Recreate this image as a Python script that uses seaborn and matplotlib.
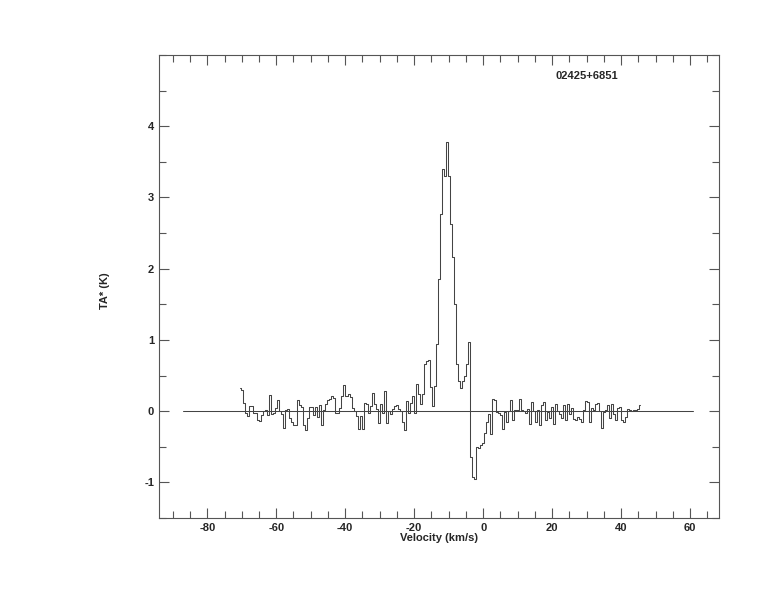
import numpy as np
import pandas as pd
import matplotlib
matplotlib.use("Agg")
import matplotlib.pyplot as plt
from matplotlib.ticker import MultipleLocator
import seaborn as sns

# ─── data ─────────────────────────────────────────────────────────────────────
SOURCE = "02425+6851"
V_START = -70.84          # km/s, left edge of first channel
V_END = 45.85             # km/s, right edge of last channel

# channels -71 .. -43 km/s
ta_seg_a = [0.32, 0.30, 0.12, -0.03, -0.07, 0.07, 0.07, -0.03, -0.02, -0.13,
            -0.14, -0.06, 0.0, 0.02, -0.06, 0.22, -0.04, -0.03, 0.05, 0.15,
            0.0, -0.04, -0.23, 0.01, 0.03, -0.10, -0.15, -0.20, -0.19, 0.15,
            0.08, 0.06, -0.20, -0.27, -0.09, 0.06, 0.06, -0.06, 0.06, -0.08,
            0.08, -0.19, 0.01, 0.10, 0.16, 0.17, 0.21, 0.19]
# channels -43 .. -17.5 km/s
ta_seg_b = [-0.02, -0.03, 0.05, 0.21, 0.37, 0.21, 0.24, 0.20, 0.05, 0.0,
            -0.07, -0.25, -0.07, -0.25, 0.12, 0.10, -0.02, 0.07, 0.26, 0.10,
            0.03, -0.16, 0.10, -0.02, 0.28, -0.16, 0.0, -0.04, 0.03, 0.07,
            0.08, 0.03, 0.0, -0.15, -0.26, 0.14, -0.02, 0.12, 0.21,
            -0.02, 0.38, 0.24, 0.10]
# channels -17.5 .. 2 km/s (line + absorption)
ta_seg_c = [0.24, 0.66, 0.70, 0.72, 0.34, 0.07, 0.36, 0.94, 1.85,
            2.77, 3.40, 3.30, 3.78, 3.30, 2.63, 2.16, 1.50, 0.66, 0.42,
            0.33, 0.42, 0.50, 0.66, 0.97, -0.65, -0.92, -0.95, -0.50, -0.52,
            -0.47, -0.45, -0.30, -0.15]
# channels 2 .. 46 km/s
ta_seg_d = [-0.04, -0.32, 0.17, 0.15, -0.01, -0.03, -0.06, -0.25, -0.01, -0.15,
            0.0, 0.15, -0.13, 0.01, 0.02, 0.17, 0.02, 0.0, -0.02, 0.03,
            -0.18, 0.13, 0.0, -0.15, 0.01, -0.20, 0.08, 0.13, -0.13, -0.01,
            -0.10, 0.06, -0.18, 0.10, 0.0, -0.04, -0.10, 0.08, -0.12, 0.10,
            -0.04, 0.04, -0.11, -0.13, -0.08, -0.11, -0.15, 0.01, 0.14, 0.13,
            -0.15, 0.05, 0.01, 0.10, 0.12, 0.0, -0.23, -0.01, 0.01, 0.08,
            -0.10, 0.10, -0.04, -0.13, 0.05, 0.06, -0.13, -0.15, -0.08, 0.03,
            0.01, 0.0, 0.01, 0.02, 0.03, 0.08]

BASELINE_V = [-87.0, 61.0]
BASELINE_T = [0.0, 0.0]

X_TICKS = [-80, -60, -40, -20, 0, 20, 40, 60]
Y_TICKS = [-1, 0, 1, 2, 3, 4]

# ─── build table ──────────────────────────────────────────────────────────────
ta = np.array(ta_seg_a + ta_seg_b + ta_seg_c + ta_seg_d)
dv = (V_END - V_START) / len(ta)
vel = V_START + dv * (np.arange(len(ta)) + 0.5)
spec = pd.DataFrame({"Velocity": vel, "TA": ta})
base = pd.DataFrame({"Velocity": BASELINE_V, "TA": BASELINE_T})

# ─── style ────────────────────────────────────────────────────────────────────
sns.set_theme(style="ticks")
plt.rcParams["font.family"] = ["Liberation Sans", "DejaVu Sans"]
plt.rcParams["font.weight"] = "bold"
plt.rcParams["axes.unicode_minus"] = False

fig = plt.figure(figsize=(7.74, 6.12), dpi=100)
ax = fig.add_axes([159 / 774, 94 / 612, 560 / 774, 463 / 612])

LINE = "#444444"
sns.lineplot(data=spec, x="Velocity", y="TA", ax=ax, estimator=None,
             drawstyle="steps-mid", color=LINE, linewidth=0.75)
sns.lineplot(data=base, x="Velocity", y="TA", ax=ax, estimator=None,
             color=LINE, linewidth=0.75)

ax.set_xlim(-94.0, 68.4)
ax.set_ylim(-1.5, 5.0)
ax.set_xticks(X_TICKS)
ax.set_yticks(Y_TICKS)
ax.xaxis.set_minor_locator(MultipleLocator(5))
ax.yaxis.set_minor_locator(MultipleLocator(0.5))
ax.tick_params(which="both", direction="in", top=True, right=True,
               color="#555555", width=0.8, labelsize=8, pad=3.5)
ax.tick_params(which="major", length=7.5)
ax.tick_params(which="minor", length=5)
for lab in ax.get_xticklabels() + ax.get_yticklabels():
    lab.set_fontweight("bold")
for s in ax.spines.values():
    s.set_color("#555555")
    s.set_linewidth(0.8)

ax.set_xlabel("Velocity (km/s)", fontsize=8, fontweight="bold")
ax.set_ylabel("TA* (K)", fontsize=8, fontweight="bold")
ax.xaxis.set_label_coords(0.5, -0.032)
ax.yaxis.set_label_coords(-0.088, 0.49)

ax.text(0.764, 0.955, SOURCE, transform=ax.transAxes, ha="center",
        va="center", fontsize=8, fontweight="bold")

fig.savefig("out.png", dpi=100)
plt.close(fig)
